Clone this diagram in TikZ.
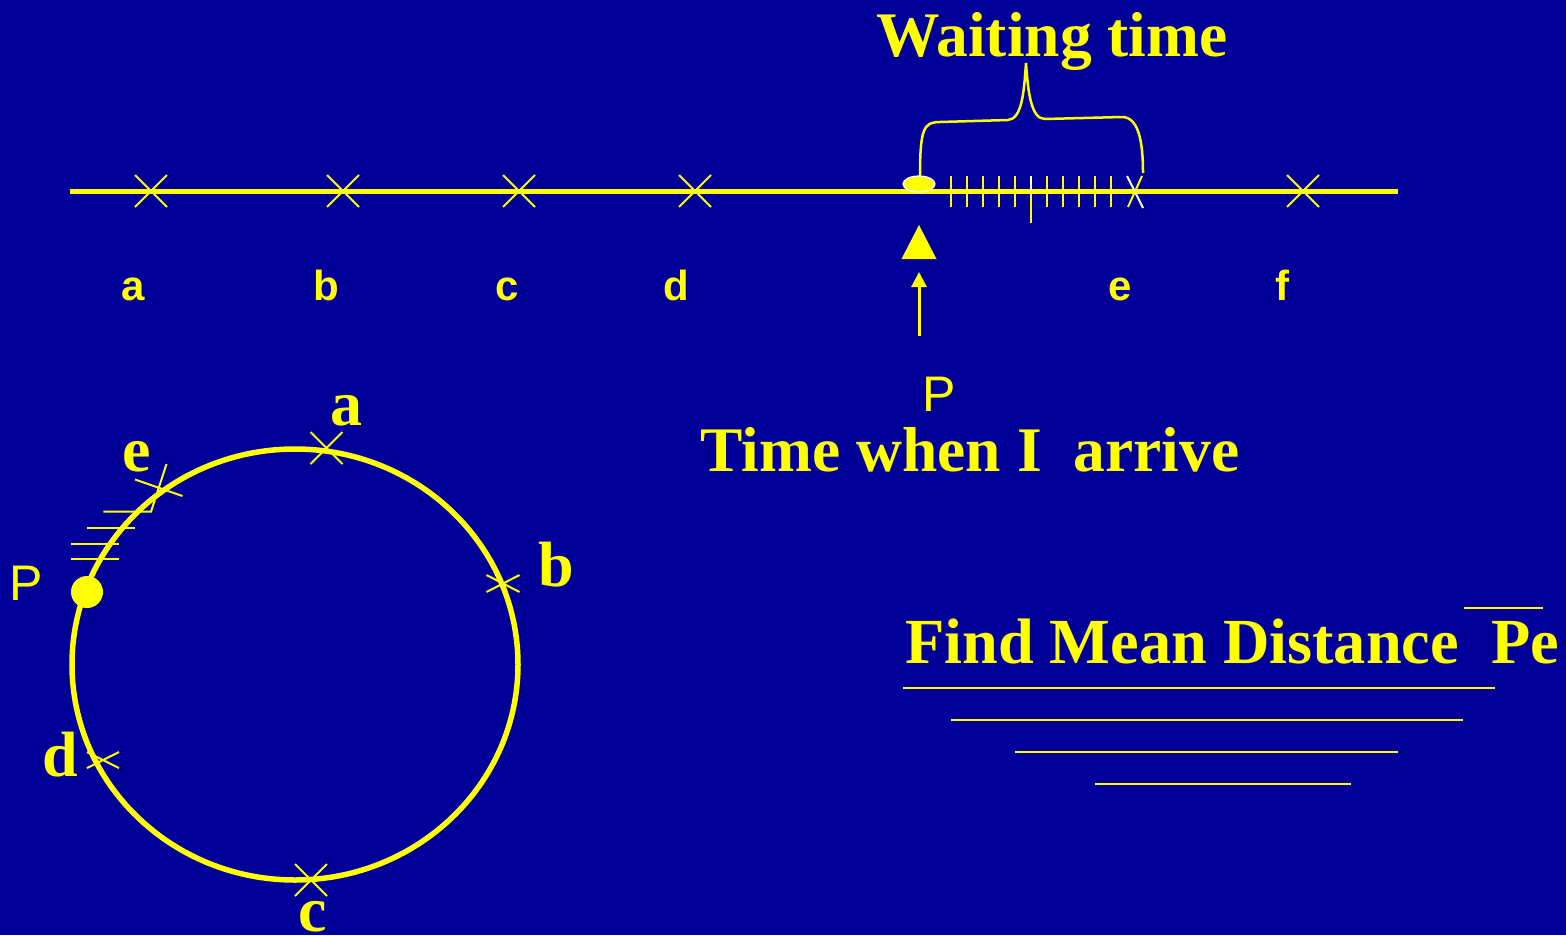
\documentclass[tikz,border=0pt]{standalone}
\usepackage{fontspec}
\setmainfont{Liberation Serif}
\newfontfamily\arialf{Liberation Sans}
\usetikzlibrary{arrows.meta}
\definecolor{bgblue}{RGB}{0,0,153}
\definecolor{yel}{RGB}{255,255,0}
\tikzset{
  bigtxt/.style={font=\fontsize{63.5bp}{70bp}\selectfont\bfseries, text=yel, inner sep=0pt},
  circlbl/.style={font=\fontsize{64bp}{70bp}\selectfont\bfseries, text=yel, inner sep=0pt, anchor=base},
  toplbl/.style={font=\arialf\bfseries\fontsize{42bp}{48bp}\selectfont, text=yel, inner sep=0pt, anchor=base},
  plbl/.style={font=\arialf\fontsize{50bp}{56bp}\selectfont, text=yel, inner sep=0pt, anchor=base},
  thinln/.style={draw=yel, line width=2bp},
  tickln/.style={draw=yel, line width=2bp},
  pics/xm/.style 2 args={code={\draw[thinln] (-#1,-#2)--(#1,#2) (-#1,#2)--(#1,-#2);}}
}
\begin{document}
\begin{tikzpicture}[x=1bp,y=-1bp]
\fill[bgblue] (0,0) rectangle (1566,935);
\useasboundingbox (0,0) rectangle (1566,935);

% time line
\coordinate (L0) at (70,191);
\coordinate (L1) at (1398,191);
\draw[yel, line width=5bp] (L0) -- (L1);
\foreach \x in {151,343,519,695,1303} \pic at (\x,191) {xm={16}{16}};

% ticks of waiting time
\foreach \x in {951,967,983,999,1015,1047,1063,1079,1095,1111}
  \draw[tickln] (\x,176) -- (\x,207);
\draw[white, line width=2bp] (1031,176) -- (1031,191);
\draw[tickln] (1031,191) -- (1031,223);
\draw[white, line width=2bp] (1127,176) -- (1143,208);
\draw[tickln] (1142,176) -- (1128,207);

% arrival point on the line
\draw[fill=yel, draw=white, line width=1.2bp] (919,184) ellipse [x radius=16bp, y radius=8bp];

% brace
\draw[yel, line width=2.5bp]
  (920,176) .. controls (920,128) and (924,122) .. (940,122)
  -- (1008,120) .. controls (1022,119) and (1024,92) .. (1026,63)
  .. controls (1028,92) and (1031,119) .. (1045,119)
  -- (1122,117) .. controls (1138,117) and (1143,140) .. (1143,173);
\node[bigtxt, anchor=base] (wait) at (1052,56) {Waiting time};

% labels under line
\node[toplbl] (ta) at (133,300.5) {a};
\node[toplbl] (tb) at (326,300.5) {b};
\node[toplbl] (tc) at (507,300.5) {c};
\node[toplbl] (td) at (676,300.5) {d};
\node[toplbl] (te) at (1120,300.5) {e};
\node[toplbl] (tf) at (1282,300.5) {f};

% triangle and arrow
\fill[yel] (919,225) -- (936.5,259) -- (901.5,259) -- cycle;
\coordinate (arrtail) at (919,336);
\coordinate (arrtip) at (919,272);
\draw[yel, line width=3bp, -{Triangle[width=15bp,length=15bp]}] (arrtail) -- (arrtip);
\node[plbl] (p1) at (939,411.5) {P};
\node[bigtxt, anchor=base] (arrive) at (970,471) {Time when I\ \ arrive};

% circle
\draw[yel, line width=5.5bp] (295,664.5) ellipse [x radius=223bp, y radius=215.5bp];
\pic at (326.5,448) {xm={16}{16}};
\pic at (503,583.5) {xm={16.5}{8.5}};
\pic at (311,880) {xm={16}{16}};
\pic at (103,760) {xm={16}{8}};
\draw[thinln] (135,479.5) -- (182.5,496);
\draw[thinln] (166.5,464) -- (151,511.7) -- (103.3,511.7);
\draw[thinln] (87.3,527.7) -- (135,527.7);
\draw[thinln] (71,543.7) -- (119,543.7);
\draw[thinln] (71,559.3) -- (119,559.3);
\fill[yel] (87,592) circle [radius=16bp];

\node[circlbl] (ca) at (346,425) {a};
\node[circlbl] (ce) at (137,471) {e};
\node[circlbl] (cb) at (556,586) {b};
\node[circlbl] (cd) at (60,776) {d};
\node[circlbl] (cc) at (313,931) {c};
\node[plbl] (p2) at (26,600) {P};

% find mean distance
\node[bigtxt, anchor=base west, font=\fontsize{64.3bp}{70bp}\selectfont\bfseries] (find) at (905,663) {Find Mean Distance\ \ Pe};
\draw[thinln] (1464,607.5) -- (1543,607.5);
\draw[thinln] (903,688) -- (1495,688);
\draw[thinln] (951,719.5) -- (1463,719.5);
\draw[thinln] (1015,751.5) -- (1398,751.5);
\draw[thinln] (1095,783.5) -- (1351,783.5);
\end{tikzpicture}
\end{document}
